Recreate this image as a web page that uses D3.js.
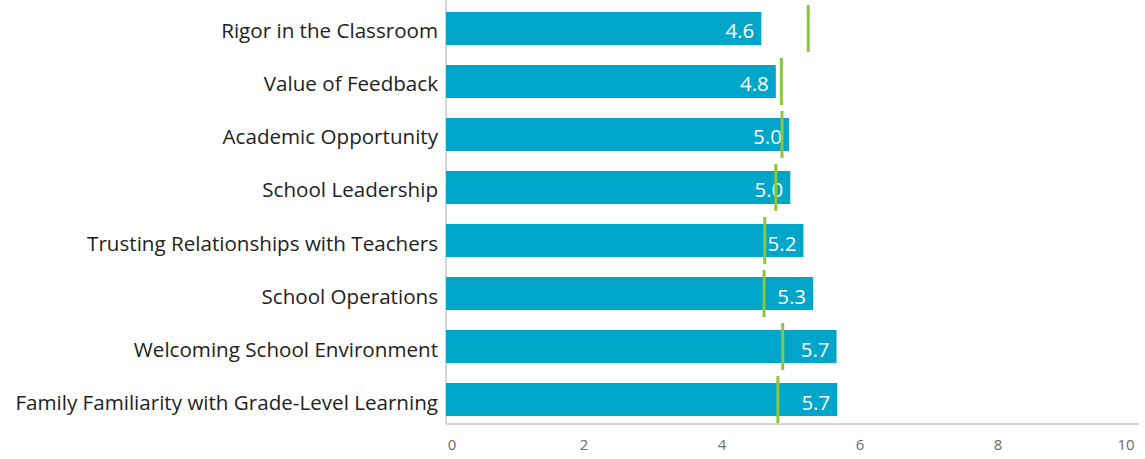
<!DOCTYPE html>
<html>
<head>
<meta charset="utf-8">
<script src="https://cdn.jsdelivr.net/npm/d3@7"></script>
<style>
  body { margin: 0; background: #fff; }
  svg { display: block; }
</style>
</head>
<body>
<svg id="chart" width="1145" height="459"></svg>
<script>
// data
var categories = [
    "Rigor in the Classroom",
    "Value of Feedback",
    "Academic Opportunity",
    "School Leadership",
    "Trusting Relationships with Teachers",
    "School Operations",
    "Welcoming School Environment",
    "Family Familiarity with Grade-Level Learning"
];
var scores = [4.57, 4.78, 4.97, 4.99, 5.18, 5.32, 5.66, 5.67];
var benchmarks = [5.25, 4.86, 4.87, 4.78, 4.62, 4.61, 4.88, 4.81];
var xTicks = [0, 2, 4, 6, 8, 10];

var svg = d3.select("#chart");
var font = "'Open Sans', 'Noto Sans', sans-serif";

var x = d3.scaleLinear()
    .domain([0, 10])
    .range([446, 1136]);

var y = d3.scaleBand()
    .domain(categories)
    .range([2, 426])
    .paddingInner(0.377)
    .paddingOuter(0.188);

// axis lines
svg.append("line")
    .attr("x1", 446).attr("x2", 446)
    .attr("y1", 0).attr("y2", 424)
    .attr("stroke", "#c8c8c8")
    .attr("stroke-width", 1.5);

svg.append("line")
    .attr("x1", 446).attr("x2", 1139)
    .attr("y1", 424).attr("y2", 424)
    .attr("stroke", "#c8c8c8")
    .attr("stroke-width", 1.5);

// x tick labels
svg.selectAll(".xtick")
    .data(xTicks)
    .join("text")
    .attr("class", "xtick")
    .attr("x", function (d, i) {
        if (i == 0) return x(d) + 6;
        if (i == xTicks.length - 1) return x(d) - 10;
        return x(d);
    })
    .attr("y", 446)
    .attr("text-anchor", "middle")
    .attr("dominant-baseline", "middle")
    .attr("font-family", font)
    .attr("font-size", "15px")
    .attr("fill", "#6b6b6b")
    .text(d => d);

// category labels
svg.selectAll(".cat")
    .data(categories)
    .join("text")
    .attr("class", "cat")
    .attr("x", 438)
    .attr("y", d => y(d) + y.bandwidth() / 2 + 2)
    .attr("text-anchor", "end")
    .attr("dominant-baseline", "central")
    .attr("font-family", font)
    .attr("font-size", "20.6px")
    .attr("fill", "#222")
    .text(d => d);

// bars
svg.selectAll(".bar")
    .data(scores)
    .join("rect")
    .attr("class", "bar")
    .attr("x", x(0))
    .attr("y", (d, i) => y(categories[i]))
    .attr("width", d => x(d) - x(0))
    .attr("height", y.bandwidth())
    .attr("fill", "#00a6c9");

// value labels
svg.selectAll(".val")
    .data(scores)
    .join("text")
    .attr("class", "val")
    .attr("x", d => x(d) - 7)
    .attr("y", (d, i) => y(categories[i]) + y.bandwidth() / 2 + 2)
    .attr("text-anchor", "end")
    .attr("dominant-baseline", "central")
    .attr("font-family", font)
    .attr("font-size", "20.5px")
    .attr("fill", "#fff")
    .text(d => d3.format(".1f")(d));

// benchmark markers
svg.selectAll(".mark")
    .data(benchmarks)
    .join("line")
    .attr("class", "mark")
    .attr("x1", d => x(d)).attr("x2", d => x(d))
    .attr("y1", (d, i) => y(categories[i]) - 7)
    .attr("y2", (d, i) => y(categories[i]) + y.bandwidth() + 7)
    .attr("stroke", "#8cc63f")
    .attr("stroke-width", 3);
</script>
</body>
</html>
